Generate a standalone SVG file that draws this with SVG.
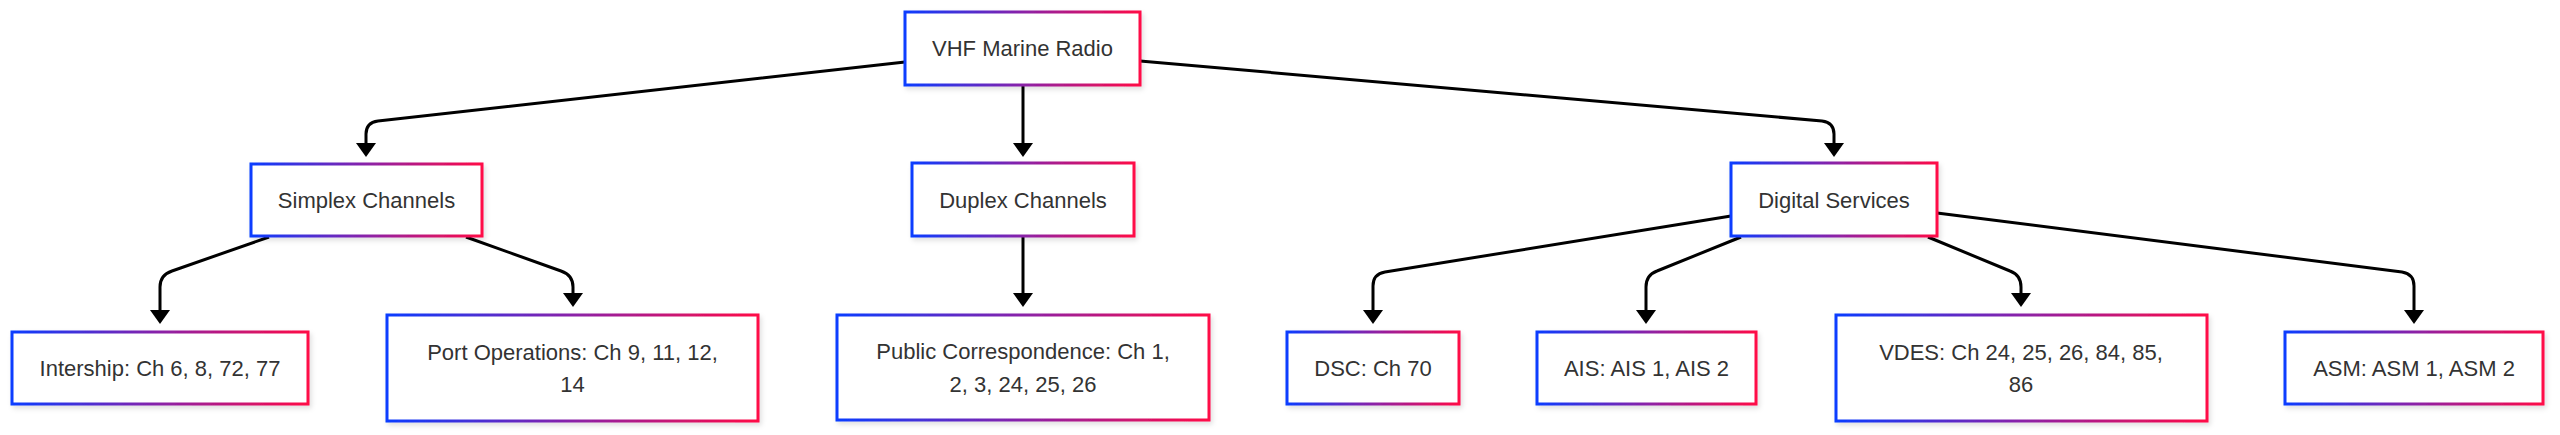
<svg xmlns="http://www.w3.org/2000/svg" width="2560" height="435" viewBox="0 0 2560 435">
<defs>
<linearGradient id="bg" x1="0" y1="0" x2="1" y2="0">
<stop offset="0" stop-color="#0a3cff"/>
<stop offset="0.5" stop-color="#8a22a8"/>
<stop offset="1" stop-color="#ff0a46"/>
</linearGradient>
<filter id="sh" x="-5%" y="-10%" width="110%" height="130%">
<feDropShadow dx="2" dy="3" stdDeviation="2.5" flood-color="#000" flood-opacity="0.12"/>
</filter>
<marker id="ah" markerUnits="userSpaceOnUse" markerWidth="16" markerHeight="22" refX="0" refY="10" orient="auto" viewBox="0 0 16 20">
<path d="M0,0 L14,10 L0,20 Z" fill="#000"/>
</marker>
</defs>
<style>
.n rect{fill:#fff;stroke:url(#bg);stroke-width:3;filter:url(#sh)}
.n text{font-family:"Liberation Sans",Arial,sans-serif;font-size:22px;fill:#333;text-anchor:middle}
.e path{fill:none;stroke:#000;stroke-width:3;marker-end:url(#ah)}
</style>
<rect width="2560" height="435" fill="#fff"/>
<g id="connectors" class="e">
<path d="M905,62 L378,121 Q366,122.5 366,134 L366,143"/>
<path d="M1023,85 L1023,143"/>
<path d="M1140,61 L1822,121 Q1834,122.5 1834,134 L1834,143"/>
<path d="M269,237 L172,271 Q160,275 160,287 L160,310"/>
<path d="M466,237 L561,271 Q573,275 573,287 L573,293"/>
<path d="M1023,237 L1023,293"/>
<path d="M1731,216 L1385,272 Q1373,274 1373,286 L1373,310"/>
<path d="M1741,237 L1657,271 Q1646,275 1646,287 L1646,310"/>
<path d="M1928,237 L2010,271 Q2021,275 2021,287 L2021,293"/>
<path d="M1937,213 L2402,272 Q2414,274 2414,286 L2414,310"/>
</g>
<g id="vhf" class="n"><rect x="905" y="12" width="235" height="73"/><text x="1022.5" y="56">VHF Marine Radio</text></g>
<g id="simplex" class="n"><rect x="251" y="164" width="231" height="72"/><text x="366.5" y="208">Simplex Channels</text></g>
<g id="duplex" class="n"><rect x="912" y="163" width="222" height="73"/><text x="1023" y="207.5">Duplex Channels</text></g>
<g id="digital" class="n"><rect x="1731" y="163" width="206" height="73"/><text x="1834" y="207.5">Digital Services</text></g>
<g id="intership" class="n"><rect x="12" y="332" width="296" height="72"/><text x="160" y="375.5">Intership: Ch 6, 8, 72, 77</text></g>
<g id="port" class="n"><rect x="387" y="315" width="371" height="106"/><text x="572.5" y="359.5">Port Operations: Ch 9, 11, 12,</text><text x="572.5" y="392">14</text></g>
<g id="public" class="n"><rect x="837" y="315" width="372" height="105"/><text x="1023" y="358.5">Public Correspondence: Ch 1,</text><text x="1023" y="391.5">2, 3, 24, 25, 26</text></g>
<g id="dsc" class="n"><rect x="1287" y="332" width="172" height="72"/><text x="1373" y="375.5">DSC: Ch 70</text></g>
<g id="ais" class="n"><rect x="1537" y="332" width="219" height="72"/><text x="1646.5" y="375.5">AIS: AIS 1, AIS 2</text></g>
<g id="vdes" class="n"><rect x="1836" y="315" width="371" height="106"/><text x="2021" y="359.5">VDES: Ch 24, 25, 26, 84, 85,</text><text x="2021" y="392">86</text></g>
<g id="asm" class="n"><rect x="2285" y="332" width="258" height="72"/><text x="2414" y="375.5">ASM: ASM 1, ASM 2</text></g>
</svg>
